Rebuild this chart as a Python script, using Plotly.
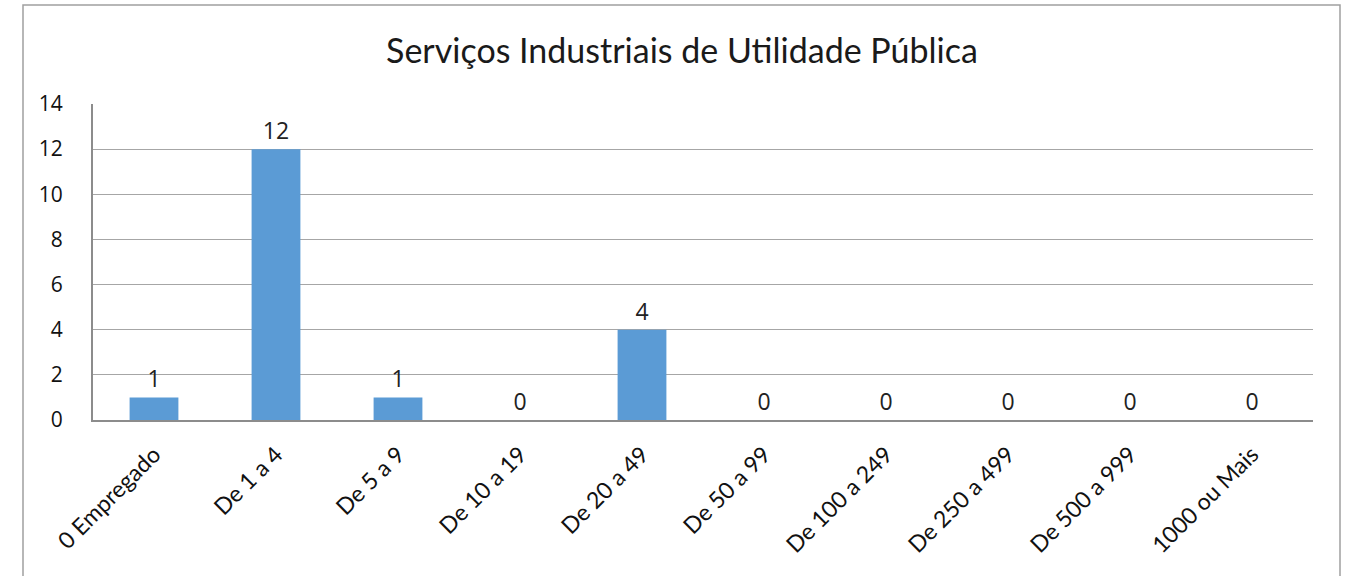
import plotly.graph_objects as go

categories = ["0 Empregado", "De 1 a 4", "De 5 a 9", "De 10 a 19", "De 20 a 49",
              "De 50 a 99", "De 100 a 249", "De 250 a 499", "De 500 a 999", "1000 ou Mais"]
values = [1, 12, 1, 0, 4, 0, 0, 0, 0, 0]
y_ticks = [0, 2, 4, 6, 8, 10, 12, 14]

W, H = 1349, 576
L, R, T, B = 93, 36, 104, 156
pw, ph = W - L - R, H - T - B

def px_x(x):
    return (x - L) / pw

def px_y(y):
    return (H - B - y) / ph

FONT = "Open Sans"

fig = go.Figure(go.Bar(
    x=categories, y=values,
    marker=dict(color="#5B9BD5", line=dict(width=0)),
    text=[str(v) for v in values], textposition="outside",
    textfont=dict(family=FONT, size=23, color="#222"),
    cliponaxis=False,
))

fig.update_layout(
    width=W, height=H,
    margin=dict(l=L, r=R, t=T, b=B),
    paper_bgcolor="white", plot_bgcolor="white",
    bargap=0.6,
    showlegend=False,
    title=dict(text="Serviços Industriais de Utilidade Pública",
               x=682 / W, xanchor="center", y=1 - 51 / H, yanchor="middle",
               font=dict(family="Lato", size=34, color="#1a1a1a")),
    xaxis=dict(
        tickangle=-45, showgrid=False,
        tickfont=dict(family="Lato", size=23, color="#111"),
        showline=True, linecolor="#8c8c8c", linewidth=2,
        ticks="", fixedrange=True, ticklabelstandoff=10,
    ),
    yaxis=dict(
        range=[0, 14], tickvals=y_ticks,
        tickfont=dict(family=FONT, size=21, color="#111"),
        showgrid=True, gridcolor="#a6a6a6", gridwidth=1,
        showline=True, linecolor="#8c8c8c", linewidth=2,
        zeroline=False, ticks="", ticklabelstandoff=24,
    ),
    shapes=[dict(type="rect", xref="paper", yref="paper",
                 x0=px_x(23), x1=px_x(1340), y0=px_y(H + 20), y1=px_y(5),
                 line=dict(color="#a0a0a0", width=1.5), layer="below")],
)

fig.write_html("out.html")
